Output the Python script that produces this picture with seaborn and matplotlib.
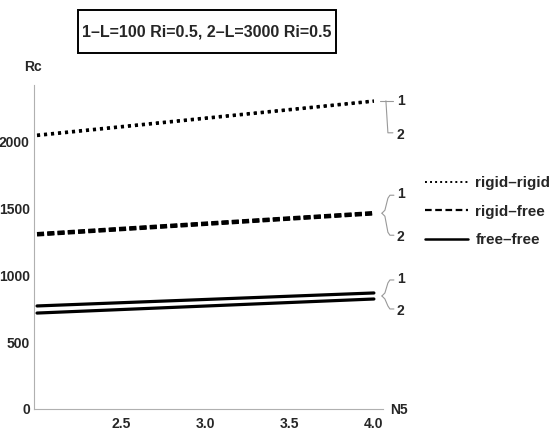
import numpy as np
import pandas as pd
import matplotlib
matplotlib.use("Agg")
import matplotlib.pyplot as plt
import seaborn as sns
from matplotlib.lines import Line2D
from matplotlib.patches import Rectangle
from matplotlib.transforms import IdentityTransform
from matplotlib.ticker import MultipleLocator

# data (straight lines between N5=2 and N5=4)
n5 = [2.0, 4.0]
rigid_rigid_1 = [2045, 2300]
rigid_rigid_2 = [2040, 2296]
rigid_free_1 = [1306, 1463]
rigid_free_2 = [1302, 1459]
free_free_1 = [769, 866]
free_free_2 = [716, 821]

title = "1\u2013L=100 Ri=0.5, 2\u2013L=3000 Ri=0.5"
legend_labels = ["rigid\u2013rigid", "rigid\u2013free", "free\u2013free"]

sns.set_style("white")
plt.rcParams['font.family'] = ['Liberation Sans', 'DejaVu Sans']
plt.rcParams['font.weight'] = 'bold'

df = pd.DataFrame({
    "N5": n5 * 6,
    "Rc": rigid_rigid_1 + rigid_rigid_2 + rigid_free_1 + rigid_free_2 + free_free_1 + free_free_2,
    "curve": ["rr1"] * 2 + ["rr2"] * 2 + ["rf1"] * 2 + ["rf2"] * 2 + ["ff1"] * 2 + ["ff2"] * 2,
})

fig = plt.figure(figsize=(5.57, 4.33), dpi=100)
ax = fig.add_axes([34 / 557, 1 - 409 / 433, (383 - 34) / 557, (409 - 85) / 433])

styles = {
    "rr1": dict(lw=2.2, ls=(0, (1.0, 1.3))),
    "rr2": dict(lw=2.2, ls=(0, (1.0, 1.3))),
    "rf1": dict(lw=2.9, ls=(0, (1.75, 0.8))),
    "rf2": dict(lw=2.9, ls=(0, (1.75, 0.8))),
    "ff1": dict(lw=2.3, ls="-"),
    "ff2": dict(lw=2.3, ls="-"),
}
for name, st in styles.items():
    sub = df[df.curve == name]
    sns.lineplot(data=sub, x="N5", y="Rc", ax=ax, color="black",
                 linewidth=st["lw"], linestyle=st["ls"], dash_capstyle="butt")

ax.set_xlim(1.982, 4.054)
ax.set_ylim(0, 2418)
ax.set_xticks([2.5, 3.0, 3.5, 4.0])
ax.set_yticks([0, 500, 1000, 1500, 2000])
ax.xaxis.set_minor_locator(MultipleLocator(0.1))
ax.yaxis.set_minor_locator(MultipleLocator(100))
ax.set_xlabel("")
ax.set_ylabel("")
for s in ["top", "right"]:
    ax.spines[s].set_visible(False)
for s in ["left", "bottom"]:
    ax.spines[s].set_color("#b0b0b0")
    ax.spines[s].set_linewidth(0.8)
ax.tick_params(which="major", direction="in", length=4, width=0.7, color="#b0b0b0",
               labelsize=10, pad=3)
ax.tick_params(axis="x", which="major", pad=6)
ax.tick_params(which="minor", direction="in", length=2, width=0.6, color="#c0c0c0")
for lab in ax.get_xticklabels() + ax.get_yticklabels():
    lab.set_fontweight("bold")

# axis names like Mathematica's AxesLabel
fig.text(33 / 557, 1 - 67 / 433, "Rc", ha="center", va="center", fontsize=10, weight="bold")
fig.text(390 / 557, 1 - 410 / 433, "N5", ha="left", va="center", fontsize=10, weight="bold")

# framed title
fig.add_artist(Rectangle((78 / 557, 1 - 53 / 433), (336 - 78) / 557, 43 / 433,
                         transform=fig.transFigure, fc="white", ec="black", lw=1.4))
fig.text(207 / 557, 1 - 32 / 433, title, ha="center", va="center", fontsize=11.5, weight="bold")

# brackets with curve labels 1 / 2 at the right end of each pair
grey = "#999999"


def to_px(y):
    return ax.transData.transform((4.0, y))


def put_label(x, y, s):
    fig.text(x, y, s, transform=IdentityTransform(), ha="left", va="center",
             fontsize=10, weight="bold")


def draw(xs, ys):
    fig.add_artist(Line2D(xs, ys, transform=IdentityTransform(), color=grey, lw=0.8))


# rigid-rigid: square bracket
x0, y1 = to_px(rigid_rigid_1[1])
draw([x0 + 6, x0 + 19], [y1, y1])
draw([x0 + 12, x0 + 14, x0 + 19], [y1, y1 - 32, y1 - 32])
put_label(x0 + 23, y1, "1")
put_label(x0 + 23, y1 - 34, "2")


def brace(ymid, up, down):
    x0, ym = to_px(ymid)
    draw([x0 + 8, x0 + 11, x0 + 14, x0 + 16, x0 + 20],
         [ym, ym + 3, ym + up - 3, ym + up, ym + up])
    draw([x0 + 8, x0 + 11, x0 + 14, x0 + 16, x0 + 20],
         [ym, ym - 3, ym - down + 3, ym - down, ym - down])
    put_label(x0 + 23, ym + up + 1, "1")
    put_label(x0 + 23, ym - down - 2, "2")


brace((rigid_free_1[1] + rigid_free_2[1]) / 2, 18, 22)
brace((free_free_1[1] + free_free_2[1]) / 2, 16, 13)

# legend
handles = [
    Line2D([], [], color="black", lw=1.4, ls=(0, (1.0, 1.6))),
    Line2D([], [], color="black", lw=1.6, ls=(0, (3.0, 1.6))),
    Line2D([], [], color="black", lw=1.8, ls="-"),
]
fig.legend(handles, legend_labels, loc="upper left", bbox_to_anchor=(425 / 557, 1 - 176 / 433),
           frameon=False, handlelength=2.8, handletextpad=0.5,
           labelspacing=0.95, borderpad=0, borderaxespad=0,
           prop={"weight": "bold", "size": 11})

fig.savefig("out.png", dpi=100)
